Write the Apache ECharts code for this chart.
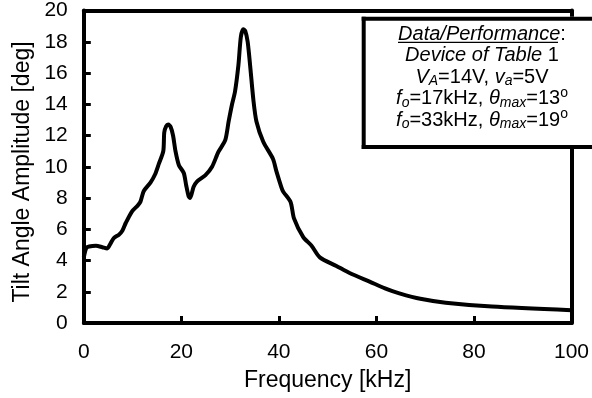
<!DOCTYPE html>
<html>
<head>
<meta charset="utf-8">
<script src="https://cdn.jsdelivr.net/npm/echarts@6/dist/echarts.min.js"></script>
<style>
  html, body { margin: 0; padding: 0; background: #fff; overflow: hidden; }
  #chart { width: 592px; height: 398px; }
</style>
</head>
<body>
<div id="chart"></div>
<script>
// Frequency [kHz]
var freq = [0, 0.5, 1.1, 2.5, 3.8, 4.8, 5.5, 6.2, 7.2, 7.9, 8.6, 9.9, 11.0, 11.6, 12.3, 13.7, 14.6, 15.4, 16.3, 16.5, 16.9, 17.3, 17.8, 18.3, 18.8, 19.5, 20.5, 21.0, 21.5, 21.8, 22.5, 23.2, 24.9, 26.3, 27.6, 29.0, 29.7, 30.4, 31.0, 31.7, 32.2, 32.7, 33.1, 33.6, 34.1, 34.8, 35.4, 36.8, 38.8, 39.5, 40.5, 40.9, 42.4, 43.1, 45.0, 46.7, 48.4, 51.8, 54.5, 58.6, 62.3, 64.7, 69.0, 74.2, 83.7, 100];
// Tilt angle amplitude [deg]
var amplitude = [4.2, 4.8, 4.9, 4.95, 4.85, 4.77, 5.1, 5.45, 5.65, 5.9, 6.4, 7.15, 7.5, 7.75, 8.45, 9.0, 9.5, 10.2, 11.0, 12.2, 12.6, 12.7, 12.55, 12.0, 11.0, 10.1, 9.6, 8.8, 8.1, 8.0, 8.7, 9.05, 9.45, 10.0, 10.95, 11.7, 12.9, 14.0, 14.8, 16.5, 18.3, 18.8, 18.7, 18.0, 16.5, 14.2, 12.9, 11.6, 10.5, 9.7, 8.7, 8.4, 7.75, 6.7, 5.5, 4.95, 4.2, 3.65, 3.2, 2.65, 2.15, 1.9, 1.55, 1.3, 1.05, 0.82];
var xTicks = [0, 20, 40, 60, 80, 100];
var yTicks = [0, 2, 4, 6, 8, 10, 12, 14, 16, 18, 20];
var xTitle = 'Frequency [kHz]';
var yTitle = 'Tilt Angle Amplitude [deg]';
var legendLines = [
  '{i|Data/Performance}{n|:}',
  '{i|Device of Table}{n| 1}',
  '{i|V}{sub|A}{n|=14V, }{i|v}{sub|a}{n|=5V}',
  '{i|f}{sub|o}{n|=17kHz, }{i|\u03b8}{sub|max}{n|=13}{sup|o}',
  '{i|f}{sub|o}{n|=33kHz, }{i|\u03b8}{sub|max}{n|=19}{sup|o}'
];

var FONT = '"Liberation Sans", Arial, Helvetica, sans-serif';
var data = freq.map(function (f, i) { return [f, amplitude[i]]; });

var rich = {
  n: { fontSize: 20, fontFamily: FONT, fontStyle: 'normal', fill: '#000' },
  i: { fontSize: 20, fontFamily: FONT, fontStyle: 'italic', fill: '#000' },
  sub: { fontSize: 14, fontFamily: FONT, fontStyle: 'italic', fill: '#000', padding: [9, 0, 0, 0] },
  sup: { fontSize: 14, fontFamily: FONT, fontStyle: 'normal', fill: '#000', padding: [0, 0, 11, 0] }
};

var legendTexts = legendLines.map(function (t, k) {
  return {
    type: 'text',
    x: 482,
    y: 34 + k * 21.5,
    z: 202,
    style: {
      text: t,
      align: 'center',
      verticalAlign: 'middle',
      fontSize: 20,
      fontFamily: FONT,
      fill: '#000',
      rich: rich
    }
  };
});

var frameLine = { show: true, onZero: false, lineStyle: { color: '#000', width: 4 } };
var inTick = { show: true, inside: true, length: 7, lineStyle: { color: '#000', width: 3 } };

var chart = echarts.init(document.getElementById('chart'), null, { renderer: 'canvas' });
chart.setOption({
  animation: false,
  backgroundColor: '#fff',
  grid: { left: 83.8, right: 19.5, top: 10.3, bottom: 75, show: false },
  xAxis: [{
    type: 'value', min: 0, max: 100, interval: 20, position: 'bottom',
    name: xTitle, nameLocation: 'middle', nameGap: 46,
    nameTextStyle: { fontSize: 23, fontFamily: FONT, color: '#000' },
    axisLine: frameLine,
    axisTick: inTick,
    axisLabel: {
      fontSize: 21, fontFamily: FONT, color: '#000', margin: 19,
      formatter: function (v) { return xTicks.indexOf(v) >= 0 ? String(v) : ''; }
    },
    splitLine: { show: false }
  }, {
    type: 'value', min: 0, max: 100, interval: 20, position: 'top',
    axisLine: frameLine, axisTick: { show: false }, axisLabel: { show: false }, splitLine: { show: false }
  }],
  yAxis: [{
    type: 'value', min: 0, max: 20, interval: 2, position: 'left',
    axisLine: frameLine,
    axisTick: inTick,
    axisLabel: {
      fontSize: 21, fontFamily: FONT, color: '#000', margin: 16,
      formatter: function (v) { return yTicks.indexOf(v) >= 0 ? String(v) : ''; }
    },
    splitLine: { show: false }
  }, {
    type: 'value', min: 0, max: 20, interval: 2, position: 'right',
    axisLine: frameLine, axisTick: { show: false }, axisLabel: { show: false }, splitLine: { show: false }
  }],
  series: [{
    type: 'line',
    data: data,
    smooth: 0.25,
    showSymbol: false,
    symbol: 'none',
    lineStyle: { color: '#000', width: 4 },
    z: 3
  }],
  graphic: [
    {
      type: 'text',
      x: 22.5, y: 172, rotation: Math.PI / 2,
      style: { text: yTitle, align: 'center', verticalAlign: 'middle', fontSize: 23, fontFamily: FONT, fill: '#000' }
    },
    {
      type: 'rect', z: 200,
      shape: { x: 361.7, y: 16.7, width: 240, height: 132.3 },
      style: { fill: '#fff' }
    },
    {
      type: 'line', z: 201,
      shape: { x1: 361.7, y1: 18.7, x2: 600, y2: 18.7 },
      style: { stroke: '#000', lineWidth: 4 }
    },
    {
      type: 'line', z: 201,
      shape: { x1: 361.7, y1: 147, x2: 600, y2: 147 },
      style: { stroke: '#000', lineWidth: 4 }
    },
    {
      type: 'line', z: 201,
      shape: { x1: 363.7, y1: 16.7, x2: 363.7, y2: 149 },
      style: { stroke: '#000', lineWidth: 4 }
    },
    {
      type: 'line', z: 203,
      shape: { x1: 398, y1: 42.3, x2: 558, y2: 42.3 },
      style: { stroke: '#000', lineWidth: 1.3 }
    }
  ].concat(legendTexts)
});
</script>
</body>
</html>
